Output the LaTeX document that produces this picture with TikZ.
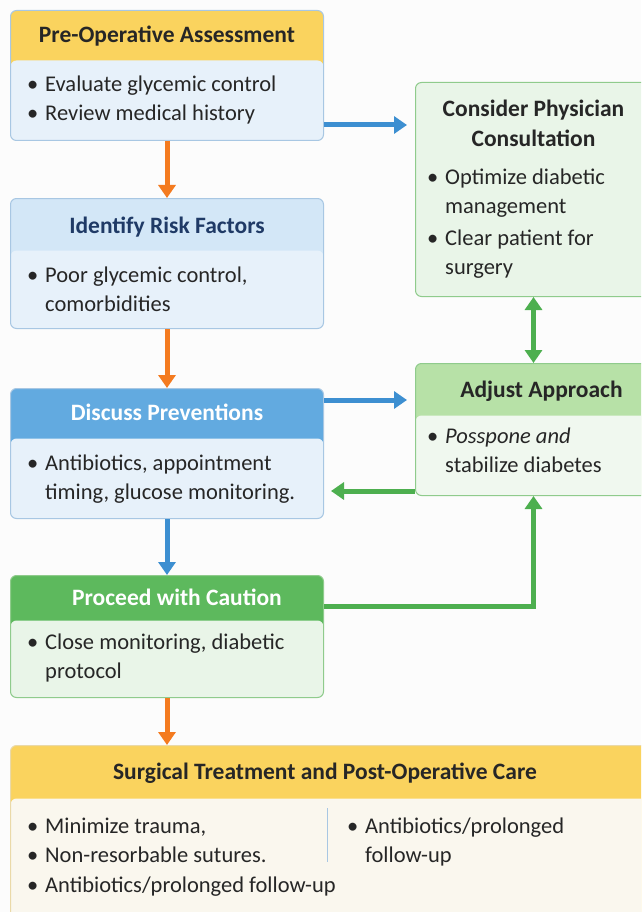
\documentclass[tikz,border=0pt]{standalone}
\usepackage{fontspec}
\setmainfont{Carlito}
\usetikzlibrary{arrows.meta,positioning}

\definecolor{hdyellow}{HTML}{FAD35E}
\definecolor{bdblue}{HTML}{E7F1FA}
\definecolor{lnblue}{HTML}{A8C7E3}
\definecolor{hdpale}{HTML}{D3E7F7}
\definecolor{hdblue}{HTML}{62AAE0}
\definecolor{hdgreen}{HTML}{5DB95D}
\definecolor{bdgreen}{HTML}{E9F5E8}
\definecolor{lngreen}{HTML}{8FCB8C}
\definecolor{hdlime}{HTML}{B7E1A7}
\definecolor{bdcream}{HTML}{FAF7EE}
\definecolor{lncream}{HTML}{EAD9A8}
\definecolor{arorange}{HTML}{F47B20}
\definecolor{arblue}{HTML}{3D8FD1}
\definecolor{argreen}{HTML}{4DAF4F}
\definecolor{txtdark}{HTML}{262626}
\definecolor{txtnavy}{HTML}{1F3A66}

\newcommand{\itm}{\makebox[18pt][l]{\textbullet}}
\newcommand{\cnt}{\hspace*{18pt}}

\tikzset{
  card/.style={draw=#1, line width=1pt, rounded corners=6pt, anchor=north west, inner sep=0pt},
  bodyfill/.style 2 args={path picture={\fill[#1] ([yshift=-#2]path picture bounding box.north west) rectangle (path picture bounding box.south east);}},
  head/.style={font=\fontsize{23.5}{28}\selectfont\bfseries, inner sep=0pt},
  bodytxt/.style={anchor=north west, align=left, inner sep=0pt, text=txtdark, font=\fontsize{22.5}{28.5}\selectfont},
  orangearrow/.style={draw=arorange, line width=5pt, -{Triangle[width=17pt,length=13pt]}},
  bluearrow/.style={draw=arblue, line width=5pt, -{Triangle[width=17pt,length=13pt]}},
  greenarrow/.style={draw=argreen, line width=5pt, -{Triangle[width=17pt,length=13pt]}},
}

\begin{document}
\begin{tikzpicture}[x=1pt,y=1pt]
\useasboundingbox (0,0) rectangle (641,-912);
\clip (0,0) rectangle (641,-912);
\fill[white!98!gray] (0,0) rectangle (641,-912);

% left column
\node[card=lnblue, fill=hdyellow, bodyfill={bdblue}{50pt}, minimum width=313pt, minimum height=130pt] (assess) at (10,-10) {};
\node[head, text=txtdark] (assessT) at ([yshift=-26pt]assess.north) {Pre-Operative Assessment};
\node[bodytxt] (assessB) at ([xshift=17pt,yshift=-66pt]assess.north west) {\itm Evaluate glycemic control\\ \itm Review medical history};

\node[card=lnblue, fill=hdpale, bodyfill={bdblue}{52pt}, minimum width=313pt, minimum height=130pt] (risk) at (10,-198) {};
\node[head, text=txtnavy] (riskT) at ([yshift=-29pt]risk.north) {Identify Risk Factors};
\node[bodytxt] (riskB) at ([xshift=17pt,yshift=-69pt]risk.north west) {\itm Poor glycemic control,\\ \cnt comorbidities};

\node[card=lnblue, fill=hdblue, bodyfill={bdblue}{50pt}, minimum width=313pt, minimum height=130pt] (prevent) at (10,-388) {};
\node[head, text=white] (preventT) at ([yshift=-24pt]prevent.north) {Discuss Preventions};
\node[bodytxt] (preventB) at ([xshift=17pt,yshift=-67pt]prevent.north west) {\itm Antibiotics, appointment\\ \cnt timing, glucose monitoring.};

\node[card=lngreen, fill=hdgreen, bodyfill={bdgreen}{45pt}, minimum width=313pt, minimum height=122pt] (caution) at (10,-575) {};
\node[head, text=white] (cautionT) at ([yshift=-22pt,xshift=10pt]caution.north) {Proceed with Caution};
\node[bodytxt] (cautionB) at ([xshift=17pt,yshift=-59pt]caution.north west) {\itm Close monitoring, diabetic\\ \cnt protocol};

% bottom box
\node[card=lncream, fill=hdyellow, bodyfill={bdcream}{53pt}, minimum width=650pt, minimum height=180pt] (surgical) at (10,-745) {};
\node[head, text=txtdark] (surgicalT) at (325,-773) {Surgical Treatment and Post-Operative Care};
\node[bodytxt] (surgicalB) at ([xshift=17pt,yshift=-73pt]surgical.north west) {\itm Minimize trauma,\\ \itm Non-resorbable sutures.\\[2pt] \itm Antibiotics/prolonged follow-up};
\node[bodytxt] (surgicalC) at ([xshift=337pt,yshift=-73pt]surgical.north west) {\itm Antibiotics/prolonged\\ \cnt follow-up};
\draw[lnblue, line width=1pt] ([xshift=317pt,yshift=-63pt]surgical.north west) -- ++(0,-54);

% right column
\node[card=lngreen, fill=bdgreen, minimum width=236pt, minimum height=214pt] (consult) at (415,-82) {};
\node[head, text=txtdark, align=center, anchor=north, font=\fontsize{23.5}{30}\selectfont\bfseries] (consultT) at ([yshift=-18pt]consult.north) {Consider Physician\\ Consultation};
\node[bodytxt] (consultB) at ([xshift=12pt,yshift=-87pt]consult.north west) {\itm Optimize diabetic\\ \cnt management\\[4pt] \itm Clear patient for\\ \cnt surgery};

\node[card=lngreen, fill=hdlime, bodyfill={bdgreen!70!white}{52pt}, minimum width=236pt, minimum height=132pt] (adjust) at (415,-363) {};
\node[head, text=txtdark] (adjustT) at ([yshift=-28pt,xshift=8pt]adjust.north) {Adjust Approach};
\node[bodytxt] (adjustB) at ([xshift=12pt,yshift=-65pt]adjust.north west) {\itm \textit{Posspone and}\\ \cnt stabilize diabetes};

% connectors
\draw[orangearrow] (assess.south) -- (risk.north);
\draw[orangearrow] (risk.south) -- (prevent.north);
\draw[bluearrow] (prevent.south) -- (caution.north);
\draw[orangearrow] (caution.south) -- (caution.south |- surgical.north);

\coordinate (a1) at ([yshift=16pt]assess.south east);
\draw[bluearrow, shorten >=8pt] (a1) -- (a1 -| consult.west);
\coordinate (a2) at ([yshift=-12pt]prevent.north east);
\draw[bluearrow, shorten >=8pt] (a2) -- (a2 -| adjust.west);

\draw[greenarrow, {Triangle[width=17pt,length=13pt]}-{Triangle[width=17pt,length=13pt]}] (consult.south) -- (adjust.north);
\coordinate (g1) at ([yshift=5pt]adjust.south west);
\draw[greenarrow, shorten >=7pt] (g1) -- (g1 -| prevent.east);
\coordinate (g2) at ([yshift=-31pt]caution.north east);
\draw[greenarrow] (g2) -| (adjust.south);
\end{tikzpicture}
\end{document}
